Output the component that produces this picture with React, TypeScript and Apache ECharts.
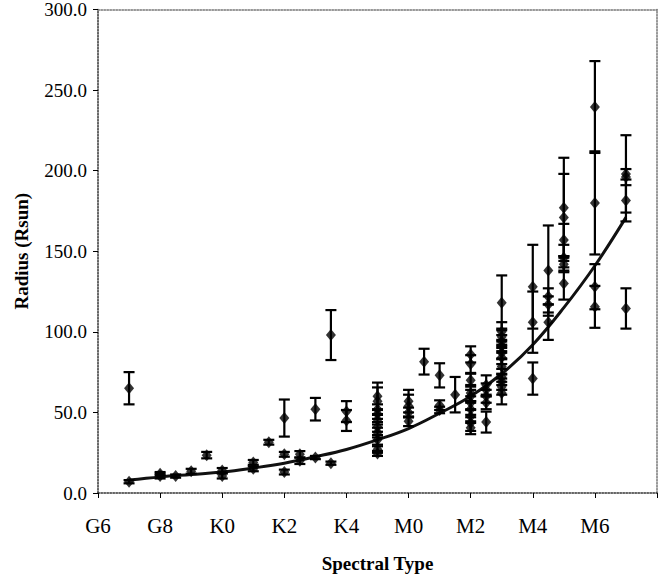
import React, { useEffect, useRef } from "react";
import * as echarts from "echarts";

// Spectral subtype index: G6=0, G7=1, G8=2, G9=3, K0=4, K1=5, K2=6, K3=7, K4=8, K5=9, M0=10, M1=11, M2=12 ...
const tickLabels: Record<number, string> = {
  0: "G6", 2: "G8", 4: "K0", 6: "K2", 8: "K4", 10: "M0", 12: "M2", 14: "M4", 16: "M6",
};

const spectralIdx = [
  1, 1, 2, 2, 2.5, 3, 3.5, 4, 4, 5, 5, 5.5, 6, 6, 6, 6.5, 6.5, 7, 7, 7.5, 7.5, 8, 8,
  9, 9, 9, 9, 9, 9, 9, 9, 9, 9,
  10, 10, 10, 10, 10.5, 11, 11, 11, 11.5,
  12, 12, 12, 12, 12, 12, 12, 12, 12, 12,
  12.5, 12.5, 12.5, 12.5, 12.5,
  13, 13, 13, 13, 13, 13, 13, 13, 13, 13, 13, 13,
  14, 14, 14, 14.5, 14.5, 14.5, 14.5,
  15, 15, 15, 15, 15, 15,
  16, 16, 16, 16,
  17, 17, 17, 17,
];
const radius = [
  65, 7, 10.5, 12, 10.5, 13.5, 23.5, 14, 10.5, 19, 15, 31.5, 46.5, 24, 13, 24, 20, 52, 22, 98, 18.5, 50.5, 45,
  60, 57, 52, 49, 45.5, 41, 37.5, 33, 27, 24.5,
  57, 54, 50, 44.5, 81.5, 73, 54.5, 51.5, 61,
  86, 80, 70, 62, 60, 56, 52, 47.5, 43.5, 40.5,
  67, 64, 60, 56, 44,
  118, 100, 97, 94, 91, 87, 84, 78.5, 72, 69, 66, 62,
  128, 106, 71, 138, 122, 117, 106,
  177, 171, 157, 146, 142, 130,
  239.5, 180, 128, 115.5,
  198, 196, 181.5, 114.5,
];
const radiusErr = [
  10, 1, 1.5, 1, 1, 1.5, 2, 1.5, 1.5, 1.5, 1.5, 1.5, 11.5, 1.5, 1.5, 2, 2, 7, 1, 15.5, 1, 6.5, 6.5,
  8.5, 8.5, 3, 3, 3, 3, 3, 3, 2, 1.5,
  7, 7, 3, 3, 8, 7.5, 3, 2, 11,
  5, 5.5, 4, 5, 4, 4, 5, 4, 5, 4,
  6, 4, 4, 4, 6.5,
  17, 6, 5, 4, 4, 4, 4, 5, 5, 5, 5, 7,
  26, 19, 10, 28, 5, 5, 11,
  31, 27, 10, 8, 5, 10,
  28.5, 32, 14, 13,
  24, 5, 13, 12.5,
];

// Fitted trend line
const fitIdx = [1, 2, 3, 4, 5, 6, 7, 8, 9, 10, 11, 12, 13, 14, 15, 16, 17];
const fitRadius = [8, 10, 11.5, 13, 15.5, 18.5, 22.5, 27, 33, 40, 49.5, 60, 74, 92, 115, 141, 171];

const FONT = "'Liberation Serif', 'Times New Roman', serif";

export default function App() {
  const ref = useRef<HTMLDivElement>(null);
  useEffect(() => {
    if (!ref.current) return;
    const chart = echarts.init(ref.current, undefined, { renderer: "svg" });
    const points = spectralIdx.map((x, i) => [x, radius[i]]);
    const errs = spectralIdx.map((x, i) => [x, radius[i] - radiusErr[i], radius[i] + radiusErr[i]]);
    const fit = fitIdx.map((x, i) => [x, fitRadius[i]]);
    chart.setOption({
      animation: false,
      backgroundColor: "#fff",
      grid: { left: 98, right: 13, top: 8, bottom: 84, containLabel: false },
      xAxis: [
        {
          type: "value",
          min: 0,
          max: 18,
          interval: 2,
          name: "Spectral Type",
          nameLocation: "middle",
          nameGap: 61,
          nameTextStyle: { fontFamily: FONT, fontSize: 19, fontWeight: "bold", color: "#000" },
          axisLine: { show: true, onZero: false, lineStyle: { color: "#333", type: "dotted", width: 1.5 } },
          axisTick: { show: true, length: 5, lineStyle: { color: "#000" } },
          axisLabel: {
            margin: 22,
            fontFamily: FONT,
            fontSize: 21,
            color: "#000",
            formatter: (v: number) => tickLabels[v] ?? "",
          },
          splitLine: { show: false },
        },
        {
          type: "value",
          position: "top",
          min: 0,
          max: 18,
          axisLine: { show: true, onZero: false, lineStyle: { color: "#777", type: "dotted", width: 1.5 } },
          axisTick: { show: false },
          axisLabel: { show: false },
          splitLine: { show: false },
        },
      ],
      yAxis: [
        {
          type: "value",
          min: 0,
          max: 300,
          interval: 50,
          name: "Radius (Rsun)",
          nameLocation: "middle",
          nameGap: 67,
          nameTextStyle: { fontFamily: FONT, fontSize: 19, fontWeight: "bold", color: "#000" },
          axisLine: { show: true, onZero: false, lineStyle: { color: "#333", type: "dotted", width: 1.5 } },
          axisTick: { show: true, length: 5, lineStyle: { color: "#000" } },
          axisLabel: {
            margin: 11,
            fontFamily: FONT,
            fontSize: 19,
            color: "#000",
            formatter: (v: number) => v.toFixed(1),
          },
          splitLine: { show: false },
        },
        {
          type: "value",
          position: "right",
          min: 0,
          max: 300,
          axisLine: { show: true, onZero: false, lineStyle: { color: "#777", type: "dotted", width: 1.5 } },
          axisTick: { show: false },
          axisLabel: { show: false },
          splitLine: { show: false },
        },
      ],
      series: [
        {
          type: "line",
          data: fit,
          smooth: 0.4,
          showSymbol: false,
          symbol: "none",
          lineStyle: { color: "#111", width: 3 },
          z: 2,
        },
        {
          type: "custom",
          data: errs,
          renderItem: (params: any, api: any) => {
            const x = api.value(0);
            const lo = api.coord([x, api.value(1)]);
            const hi = api.coord([x, api.value(2)]);
            const w = 5.5;
            const st = { stroke: "#000", lineWidth: 2.2 };
            return {
              type: "group",
              children: [
                { type: "line", shape: { x1: lo[0], y1: lo[1], x2: hi[0], y2: hi[1] }, style: st },
                { type: "line", shape: { x1: lo[0] - w, y1: lo[1], x2: lo[0] + w, y2: lo[1] }, style: st },
                { type: "line", shape: { x1: hi[0] - w, y1: hi[1], x2: hi[0] + w, y2: hi[1] }, style: st },
              ],
            };
          },
          z: 3,
        },
        {
          type: "scatter",
          data: points,
          symbol: "diamond",
          symbolSize: [10, 12],
          itemStyle: { color: "#000" },
          z: 4,
        },
      ],
    });
    return () => chart.dispose();
  }, []);
  return (
    <div
      ref={ref}
      style={{ position: "fixed", left: 0, top: 0, width: 670, height: 578, background: "#fff" }}
    />
  );
}
